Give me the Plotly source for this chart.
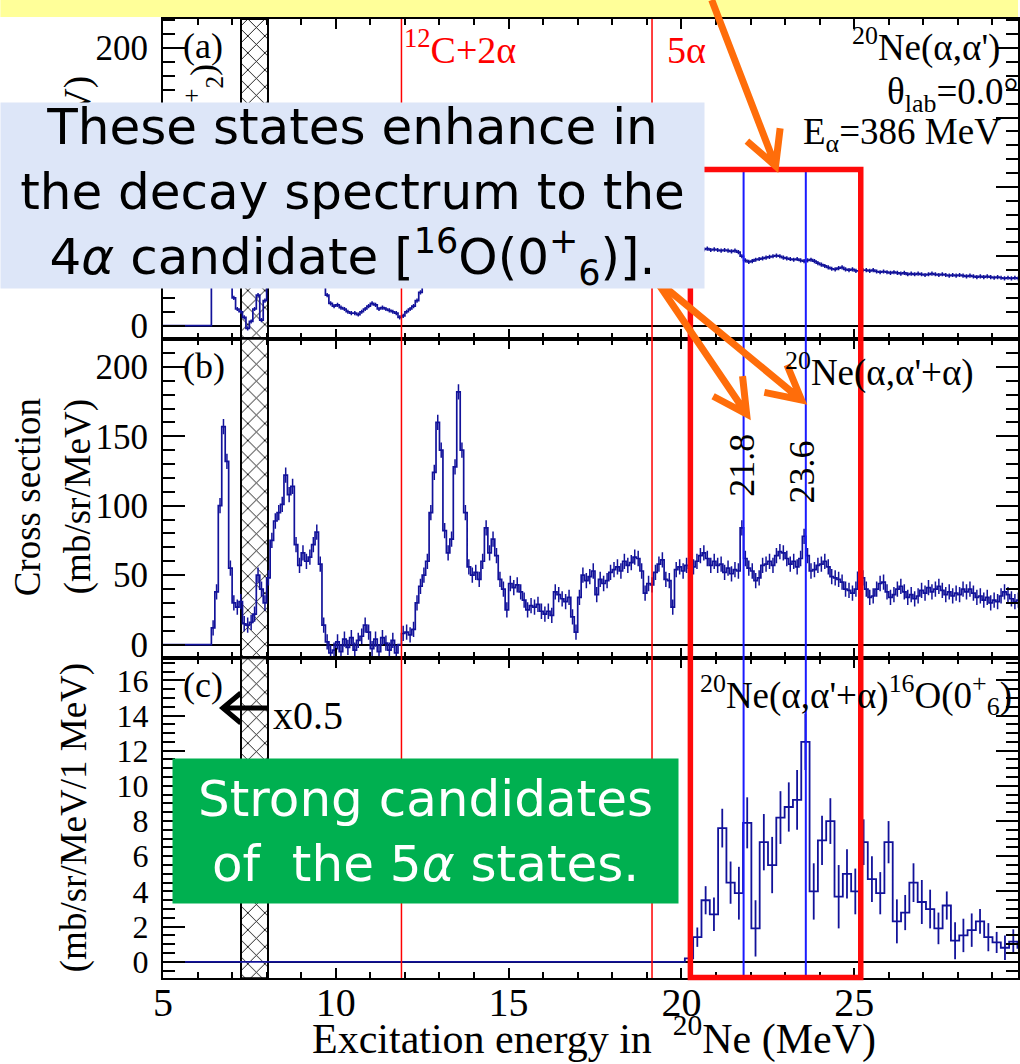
import math
import plotly.graph_objects as go
from plotly.subplots import make_subplots

# ---------------- data ----------------
E_START = 5.0      # first bin edge of panels (a), (b)  [MeV]
E_BIN = 0.1        # bin width of panels (a), (b)       [MeV]

# (a) 20Ne(a,a') inclusive, rows = 5.x, 6.x, ..., 29.x MeV
spec_a = [
    0, 0, 0, 0, 0, 0, 0, 0, 0, 0,
    0, 0, 0, 0, 70, 135, 150, 140, 95, 50,
    20, 12, 10, 6, -2, 3, 12, 22, 4, 18,
    45, 80, 100, 110, 118, 135, 125, 128, 105, 90,
    92, 88, 90, 96, 102, 85, 50, 22, 16, 14,
    15, 13, 12, 10, 9, 9, 8, 10, 12, 14,
    16, 15, 12, 13, 12, 11, 10, 9, 6, 7,
    10, 12, 14, 18, 24, 45, 70, 95, 115, 120,
    112, 95, 88, 92, 110, 135, 120, 100, 88, 85,
    84, 82, 86, 92, 90, 91, 87, 80, 76, 72,
    74, 73, 72, 70, 68, 67, 68, 67, 66, 66,
    65, 65, 64, 66, 66, 65, 65, 64, 63, 62,
    63, 64, 64, 65, 65, 63, 63, 62, 62, 63,
    63, 62, 62, 63, 62, 62, 62, 61, 60, 59,
    59, 59, 60, 60, 60, 59, 58, 57, 57, 58,
    57, 57, 56, 56, 56, 55.5, 55, 55.5, 54.5, 55,
    54.5, 54, 54.5, 54, 53.5, 54, 53, 50, 47, 46,
    46.5, 47.5, 48, 48.5, 49, 49.5, 50, 50.5, 50, 49,
    48.5, 48, 47.5, 48, 47, 46.5, 47, 47.5, 46.5, 45,
    44, 43, 42, 41, 40.5, 41.5, 42, 40.5, 40, 40.5,
    39.5, 39.5, 40, 40, 39.5, 40, 39, 38.5, 39, 38.5,
    38, 38.5, 38, 37.5, 38, 37, 37.5, 37, 37.5, 37,
    36.5, 37, 37.5, 37, 36.5, 37, 36.5, 36, 36.5, 36,
    36.5, 36, 35.5, 36, 35.5, 35, 35.5, 35, 35.5, 35,
    34.5, 35, 34.5, 34, 34.5, 34, 34.5, 34, 34.5, 34,
]
ERR_A = 1.5

# (b) 20Ne(a,a'+a), rows = 5.x ... 29.x MeV
spec_b = [
    0, 0, 0, 0, 0, 0, 0, 0, 0, 0,
    0, 0, 0, 0, 12, 38, 100, 157, 132, 55,
    30, 27, 31, 15, 14, 16, 22, 50, 40, 30,
    48, 75, 89, 95, 101, 122, 108, 114, 72, 57,
    66, 60, 63, 72, 81, 58, 14, 2, -6, -4,
    2, -5, 4, -2, 5, -4, 3, 6, 14, 9,
    -3, 4, -5, 5, 1, -4, 3, -6, 0, 8,
    9, 7, 11, 30, 42, 50, 60, 95, 124, 160,
    140, 82, 66, 76, 128, 182, 140, 95, 56, 50,
    52, 47, 60, 84, 66, 76, 64, 47, 40, 25,
    44, 41, 43, 38, 32, 25, 28, 27, 29, 24,
    22, 24, 21, 38, 36, 33, 31, 34, 20, 9,
    34, 50, 46, 49, 53, 36, 47, 44, 46, 52,
    54, 56, 53, 60, 57, 59, 63, 62, 53, 37,
    44, 43, 52, 58, 61, 47, 46, 27, 54, 56,
    53, 57, 55, 56, 60, 64, 66, 62, 57, 60,
    57, 58, 52, 55, 51, 54, 53, 84, 62, 55,
    53, 46, 48, 57, 58, 60, 57, 64, 67, 66,
    62, 58, 60, 56, 62, 78, 64, 53, 54, 57,
    58, 60, 56, 49, 48, 47, 45, 40, 39, 37,
    40, 52, 48, 40, 34, 35, 40, 44, 45, 38,
    34, 36, 40, 42, 38, 34, 36, 33, 35, 39,
    37, 41, 38, 40, 42, 39, 36, 38, 35, 37,
    36, 40, 38, 40, 37, 34, 35, 32, 34, 30,
    32, 31, 35, 38, 36, 33, 31, 32, 33, 31,
]
ERR_B = 5.5

# (c) 20Ne(a,a'+a)16O(0+6)
c_start = 20.10
c_bin = 0.2406
spec_c = [0.2, 1.4, 3.5, 2.7, 7.6, 4.5, 3.9, 7.9, 1.9, 6.8,
          5.5, 8.2, 8.8, 9.2, 12.5, 4.0, 6.9, 8.0, 3.7, 5.0,
          4.0, 6.8, 4.7, 3.9, 6.8, 2.3, 2.8, 4.5, 3.4, 3.0,
          1.9, 3.2, 1.2, 1.5, 1.8, 2.3, 1.4, 1.1, 0.8, 1.15, 0.8]
err_c = [0.1, 0.55, 0.8, 0.95, 1.1, 1.2, 1.5, 1.45, 1.6, 1.6,
         1.6, 1.5, 1.4, 1.7, 1.6, 1.6, 1.4, 1.3, 1.8, 1.4,
         1.3, 1.3, 1.3, 1.2, 1.2, 1.25, 1.0, 1.1, 1.25, 1.1,
         0.9, 0.8, 1.05, 0.95, 0.95, 0.7, 0.8, 0.6, 0.7, 0.7, 0.6]

hatch_lo, hatch_hi = 7.25, 8.03       # 12C(0+2) contamination band
thr_12c2a = 11.9                      # 12C+2a threshold
thr_5a = 19.15                        # 5a threshold
state_e = [21.8, 23.6]                # candidate states
state_labels = ["21.8", "23.6"]
box_lo, box_hi = 20.26, 25.19         # highlighted region
x_ticks = [5, 10, 15, 20, 25]

# ---------------- geometry ----------------
W, H = 1020, 1064
ML, MR, MT, MB = 163, 0, 19, 86
PW, PH = W - ML - MR, H - MT - MB


def PX(px):
    return (px - ML) / PW


def PY(py):
    return (H - MB - py) / PH


NAVY = '#12129a'
SERIF = 'Liberation Serif'
SANS = 'DejaVu Sans'
ORANGE = '#FF6D0A'

yr = {1: [-9.4, 221.0], 2: [-9.9, 220.3], 3: [-0.92, 17.25]}

fig = make_subplots(rows=3, cols=1, shared_xaxes=True, vertical_spacing=0)

# hatched band
for r in (1, 2, 3):
    lo, hi = yr[r]
    fig.add_trace(go.Bar(
        x=[(hatch_lo + hatch_hi) / 2], y=[hi - lo], base=[lo], width=[hatch_hi - hatch_lo],
        marker=dict(color='white', line=dict(color='black', width=2),
                    pattern=dict(shape='x', fgcolor='black', fgopacity=1, bgcolor='white',
                                 size=12, solidity=0.14)),
        showlegend=False, hoverinfo='skip'), row=r, col=1)

# spectra (a), (b)
edges = [round(E_START + E_BIN * i, 3) for i in range(len(spec_a))]
xs = edges + [edges[-1] + E_BIN]
centers = [e + E_BIN / 2 for e in edges]
for r, vals, err in ((1, spec_a, ERR_A), (2, spec_b, ERR_B)):
    fig.add_trace(go.Scatter(x=xs, y=vals + [vals[-1]], mode='lines',
                             line=dict(color=NAVY, width=1.7, shape='hv'),
                             showlegend=False, hoverinfo='skip'), row=r, col=1)
    fig.add_trace(go.Scatter(x=centers, y=vals, mode='markers',
                             marker=dict(size=1, color='rgba(0,0,0,0)'),
                             error_y=dict(type='data', array=[err if v != 0 else 0 for v in vals],
                                          width=0, thickness=1.5, color=NAVY),
                             showlegend=False, hoverinfo='skip'), row=r, col=1)

# spectrum (c)
c_edges = [c_start + c_bin * k for k in range(len(spec_c))]
xc = [E_START] + c_edges + [c_edges[-1] + c_bin]
yc = [0] + spec_c + [spec_c[-1]]
fig.add_trace(go.Scatter(x=xc, y=yc, mode='lines', line=dict(color=NAVY, width=1.8, shape='hv'),
                         showlegend=False, hoverinfo='skip'), row=3, col=1)
fig.add_trace(go.Scatter(x=[e + c_bin / 2 for e in c_edges], y=spec_c, mode='markers',
                         marker=dict(size=1, color='rgba(0,0,0,0)'),
                         error_y=dict(type='data', array=err_c, width=0, thickness=1.8, color=NAVY),
                         showlegend=False, hoverinfo='skip'), row=3, col=1)

# axes
for r in (1, 2, 3):
    fig.update_xaxes(row=r, col=1, range=[5, 29.74], showline=True, linecolor='black', linewidth=2,
                     mirror='allticks', ticks='inside', tickvals=x_ticks, ticklen=10,
                     tickwidth=1.5, tickcolor='black',
                     minor=dict(ticks='inside', dtick=1, tick0=5, ticklen=6, tickwidth=1.5, tickcolor='black'),
                     showgrid=False, zeroline=False, showticklabels=(r == 3),
                     tickfont=dict(family=SERIF, size=40, color='black'), ticklabelstandoff=-12)
for r, dt, mdt, fs in ((1, 50, 10, 35), (2, 50, 10, 35), (3, 2, 0.5, 32)):
    fig.update_yaxes(row=r, col=1, range=yr[r], showline=True, linecolor='black', linewidth=2,
                     mirror='allticks', ticks='inside', dtick=dt, tick0=0, ticklen=22, tickwidth=1.5,
                     tickcolor='black',
                     minor=dict(ticks='inside', dtick=mdt, tick0=0, ticklen=12, tickwidth=1.5, tickcolor='black'),
                     showgrid=False, zeroline=True, zerolinecolor='black', zerolinewidth=1.5,
                     tickfont=dict(family=SERIF, size=fs, color='black'), ticklabelstandoff=6)

# threshold / state lines and the highlight box
for e in (thr_12c2a, thr_5a):
    fig.add_shape(type='line', xref='x3', yref='paper', x0=e, x1=e, y0=0, y1=1,
                  line=dict(color='red', width=1.5), layer='above')
for e in state_e:
    fig.add_shape(type='line', xref='x3', yref='paper', x0=e, x1=e, y0=0, y1=PY(170),
                  line=dict(color='#1a1aff', width=2), layer='above')
fig.add_shape(type='rect', xref='x3', yref='paper', x0=box_lo, x1=box_hi, y0=PY(977.5), y1=PY(169.5),
              line=dict(color='#ff0a0a', width=5.5), fillcolor='rgba(0,0,0,0)', layer='above')

# yellow band at the top
fig.add_shape(type='rect', xref='paper', yref='paper', x0=PX(0), x1=PX(1020), y0=PY(17), y1=PY(0),
              line=dict(width=0), fillcolor='#FFFF99', layer='above')


def arrow_path(x0, y0, x1, y1, arm=38, spread=28):
    ang = math.atan2(y0 - y1, x0 - x1)
    pts = []
    for s in (-1, 1):
        a = ang + s * math.radians(spread)
        pts.append((x1 + arm * math.cos(a), y1 + arm * math.sin(a)))

    def P(x, y):
        return f"{PX(x):.5f},{PY(y):.5f}"
    return f"M{P(x0, y0)} L{P(x1, y1)} M{P(*pts[0])} L{P(x1, y1)} L{P(*pts[1])}"


for (x0, y0, x1, y1) in ((713, 0, 777, 166), (659, 283, 748, 414), (661, 283, 803, 400)):
    fig.add_shape(type='path', xref='paper', yref='paper', path=arrow_path(x0, y0, x1, y1),
                  line=dict(color=ORANGE, width=7), fillcolor='rgba(0,0,0,0)', layer='above')


# black "<-" arrow in panel (c)
def P2(x, y):
    return f"{PX(x):.5f},{PY(y):.5f}"


fig.add_shape(type='path', xref='paper', yref='paper',
              path=f"M{P2(268, 708)} L{P2(223, 708)} M{P2(241, 693)} L{P2(223, 708)} L{P2(241, 723)}",
              line=dict(color='black', width=5), fillcolor='rgba(0,0,0,0)', layer='above')


def ann(text, px, py, size=36, family=SERIF, color='black', xanchor='center', yanchor='middle',
        angle=0, **kw):
    fig.add_annotation(xref='paper', yref='paper', x=PX(px), y=PY(py), text=text, showarrow=False,
                       xanchor=xanchor, yanchor=yanchor, textangle=angle, borderpad=0,
                       font=dict(family=family, size=size, color=color), **kw)


# items hidden behind the blue box come first
ann("(mb/sr/MeV)", 78, 174, size=37, angle=-90)
ann("<sup>12</sup>C(0<sup>+</sup><sub>2</sub>)", 203, 63, size=36, angle=-90, yanchor='top')

# blue call-out box
ann("These states enhance in<br>the decay spectrum to the<br>4<i>α</i> candidate [<sup>16</sup>O(0<sup>+</sup><sub>6</sub>)].",
    0, 102, size=50, family=SANS, xanchor='left', yanchor='top', width=703, height=185,
    bgcolor='#DDE6F8', align='center', valign='middle')

# panel texts
ann("(a)", 182, 46, xanchor='left')
ann("(b)", 182, 366, xanchor='left')
ann("(c)", 182, 685, xanchor='left')
ann("<sup>12</sup>C+2α", 404, 47, size=38, color='red', xanchor='left')
ann("5α", 667, 50, size=38, color='red', xanchor='left')
ann("<sup>20</sup>Ne(α,α')", 853, 45, size=37, xanchor='left')
ann("θ<sub>lab</sub>=0.0°", 888, 94, size=37, xanchor='left')
ann("E<sub>α</sub>=386 MeV", 803, 135, size=37, xanchor='left')
ann("<sup>20</sup>Ne(α,α'+α)", 785, 370, size=37, xanchor='left')
for lab, cx, cy in zip(state_labels, (743, 803), (465, 472)):
    ann(lab, cx, cy, size=36, angle=-90)
ann("Cross section", 28, 497, size=37, angle=-90)
ann("(mb/sr/MeV)", 78, 497, size=37, angle=-90)
ann("(mb/sr/MeV/1 MeV)", 74, 818, size=37, angle=-90)
ann("<sup>20</sup>Ne(α,α'+α)<sup>16</sup>O(0<sup>+</sup><sub>6</sub>)", 700, 695, size=37, xanchor='left')
ann("x0.5", 272, 715, size=40, xanchor='left')
ann("Excitation energy in  <sup>20</sup>Ne (MeV)", 595, 1036, size=42)

# green call-out box
ann("Strong candidates<br>of  the 5<i>α</i> states.", 172, 758, size=50, family=SANS, color='white',
    xanchor='left', yanchor='top', width=505, height=144, bgcolor='#00B050', align='center',
    valign='middle')

fig.update_layout(width=W, height=H, margin=dict(l=ML, r=MR, t=MT, b=MB, pad=0),
                  paper_bgcolor='white', plot_bgcolor='white', showlegend=False, bargap=0,
                  font=dict(family=SERIF, color='black'))

fig.write_html("out.html")
